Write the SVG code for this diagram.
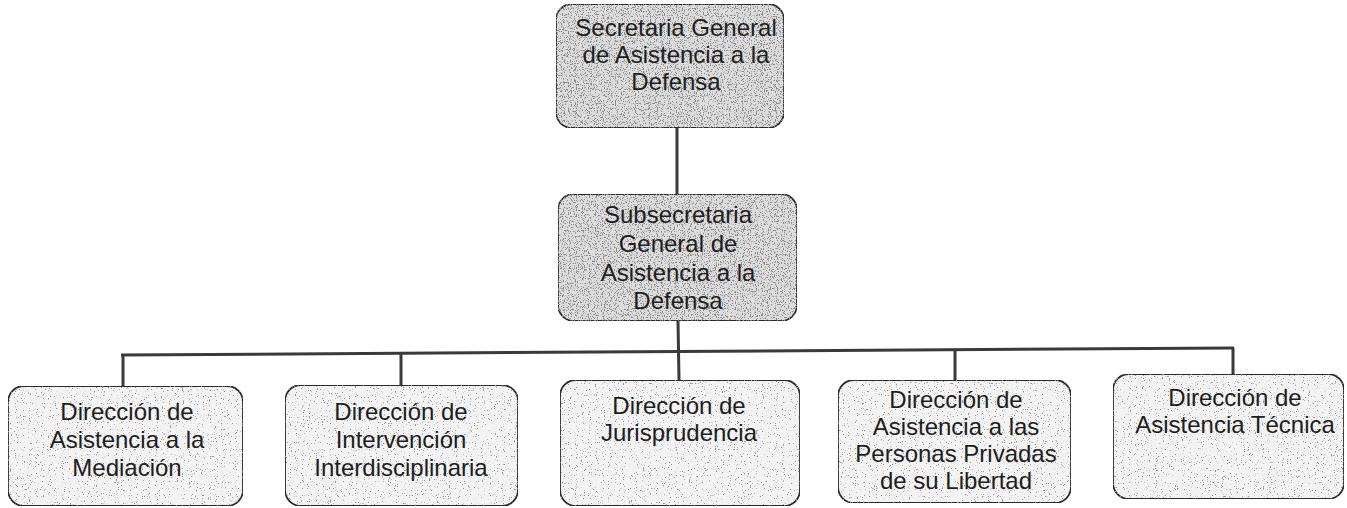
<svg xmlns="http://www.w3.org/2000/svg" width="1347" height="508" viewBox="0 0 1347 508">
<style>
  .box { stroke: #2a2a2a; stroke-width: 1.8; }
  .top { fill: #dedede; filter: url(#speckD); }
  .child { fill: #f3f3f3; filter: url(#speckL); }
  .lbl { font-family: "Liberation Sans", Arial, sans-serif; font-size: 24px; fill: #1e1e1e; text-anchor: middle; }
  .wire { stroke: #3a3a3a; stroke-width: 3; fill: none; }
</style>
<defs>
  <filter id="speckD" x="0" y="0" width="1" height="1">
    <feTurbulence type="fractalNoise" baseFrequency="0.85" numOctaves="2" seed="4" result="t"/>
    <feColorMatrix in="t" type="matrix" values="0 0 0 0 0.25  0 0 0 0 0.25  0 0 0 0 0.25  10 0 0 0 -5.4" result="dots"/>
    <feComposite in="dots" in2="SourceGraphic" operator="in" result="d"/>
    <feMerge><feMergeNode in="SourceGraphic"/><feMergeNode in="d"/></feMerge>
  </filter>
  <filter id="speckL" x="0" y="0" width="1" height="1">
    <feTurbulence type="fractalNoise" baseFrequency="0.85" numOctaves="2" seed="9" result="t"/>
    <feColorMatrix in="t" type="matrix" values="0 0 0 0 0.3  0 0 0 0 0.3  0 0 0 0 0.3  10 0 0 0 -6.4" result="dots"/>
    <feComposite in="dots" in2="SourceGraphic" operator="in" result="d"/>
    <feMerge><feMergeNode in="SourceGraphic"/><feMergeNode in="d"/></feMerge>
  </filter>
</defs>
<rect width="1347" height="508" fill="#ffffff"/>

<g id="connectors">
  <line class="wire" x1="677" y1="128" x2="677" y2="194"/>
  <line class="wire" x1="678" y1="321" x2="679" y2="380"/>
  <line class="wire" x1="121" y1="355" x2="1234" y2="348"/>
  <line class="wire" x1="123" y1="355" x2="123" y2="386"/>
  <line class="wire" x1="401" y1="353" x2="401" y2="385"/>
  <line class="wire" x1="955" y1="349" x2="955" y2="380"/>
  <line class="wire" x1="1233" y1="348" x2="1233" y2="374"/>
</g>

<g id="secretaria">
  <rect class="box top" x="556" y="4" width="228" height="124" rx="16"/>
  <text class="lbl" x="676" y="36">Secretaria General</text>
  <text class="lbl" x="676" y="63">de Asistencia a la</text>
  <text class="lbl" x="676" y="90">Defensa</text>
</g>

<g id="subsecretaria">
  <rect class="box top" x="558" y="194" width="239" height="127" rx="16"/>
  <text class="lbl" x="678" y="223">Subsecretaria</text>
  <text class="lbl" x="678" y="252">General de</text>
  <text class="lbl" x="678" y="281">Asistencia a la</text>
  <text class="lbl" x="678" y="309">Defensa</text>
</g>

<g id="mediacion">
  <rect class="box child" x="8" y="386" width="235" height="120" rx="16"/>
  <text class="lbl" x="127" y="420">Dirección de</text>
  <text class="lbl" x="127" y="448">Asistencia a la</text>
  <text class="lbl" x="127" y="476">Mediación</text>
</g>

<g id="interdisciplinaria">
  <rect class="box child" x="285" y="385" width="233" height="121" rx="16"/>
  <text class="lbl" x="401" y="420">Dirección de</text>
  <text class="lbl" x="401" y="448">Intervención</text>
  <text class="lbl" x="401" y="476">Interdisciplinaria</text>
</g>

<g id="jurisprudencia">
  <rect class="box child" x="560" y="380" width="240" height="126" rx="16"/>
  <text class="lbl" x="679" y="414">Dirección de</text>
  <text class="lbl" x="679" y="441">Jurisprudencia</text>
</g>

<g id="privadas">
  <rect class="box child" x="838" y="380" width="233" height="123" rx="16"/>
  <text class="lbl" x="956" y="408">Dirección de</text>
  <text class="lbl" x="956" y="435">Asistencia a las</text>
  <text class="lbl" x="956" y="462">Personas Privadas</text>
  <text class="lbl" x="956" y="489">de su Libertad</text>
</g>

<g id="tecnica">
  <rect class="box child" x="1113" y="374" width="231" height="125" rx="16"/>
  <text class="lbl" x="1235" y="406">Dirección de</text>
  <text class="lbl" x="1235" y="433">Asistencia Técnica</text>
</g>
</svg>
